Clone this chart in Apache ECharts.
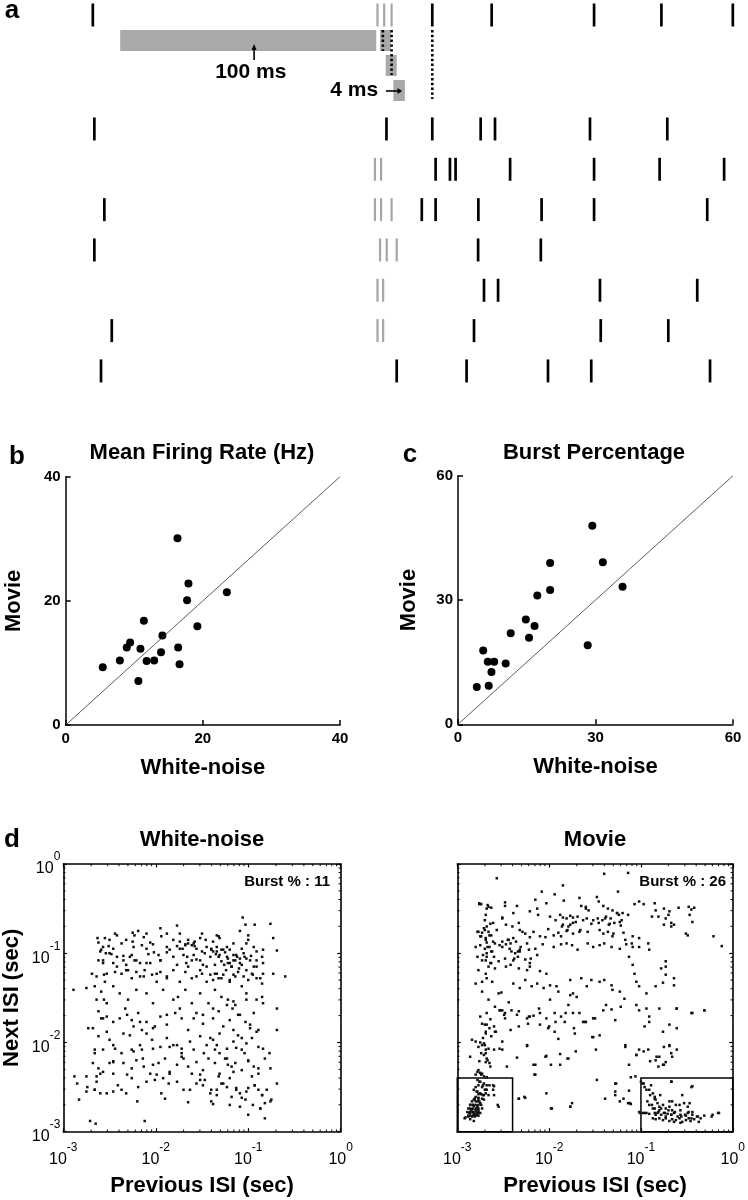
<!DOCTYPE html>
<html><head><meta charset="utf-8">
<script src="https://cdn.jsdelivr.net/npm/echarts@6/dist/echarts.min.js"></script>
<style>html,body{margin:0;padding:0;background:#fff}#c{width:748px;height:1200px}</style>
</head><body><div id="c"></div><script>
const FF = 'Liberation Sans, Arial, Helvetica, sans-serif';

// ---------- panel a : spike rasters (time in ms, 0 = first burst spike of trial 1) ----------
const row1Black = [-111.2, 21.4, 44.6, 84.6, 110.9, 138.8];
const row1Burst = [0, 2.6, 5.5];
const trialNames = ['2','3','4','5','6','7','8'];
const trialBlack = [
  [-110.6, 3.5, 21.4, 40.3, 45.9, 83.0, 113.2],
  [22.7, 28.3, 30.5, 51.8, 84.6, 110.2, 135.4],
  [-106.7, 17.3, 22.7, 39.4, 64.1, 84.6, 128.8],
  [-110.6, 39.3, 63.8],
  [41.6, 47.1, 86.9, 124.9],
  [-103.8, 37.7, 87.2, 113.6],
  [-108.0, 7.5, 34.8, 66.6, 83.5, 129.9]
];
const trialBurst = [
  [],
  [-1.0, 1.4],
  [-1.0, 1.4, 5.5],
  [1.0, 3.6, 7.5],
  [0.0, 2.2],
  [0.0, 2.2],
  []
];
// windows of the burst criterion: [start ms, end ms, level]
const windowBars = [[-100.5, -0.5, 0], [1.0, 5.2, 0], [3.2, 7.5, 1], [6.2, 10.7, 2]];
const dottedMarks = [[2.1, 0], [5.5, 1], [21.4, 2]];

// ---------- panel b : mean firing rate ----------
const frWhite = [16.3,17.9,17.7,23.5,19.2,11.4,14.1,9.4,8.9,10.9,16.4,13.9,7.9,11.8,12.9,16.6,5.4,10.6];
const frMovie = [30.1,22.8,20.1,21.4,15.9,16.8,14.4,13.3,12.5,12.3,12.5,11.7,10.4,10.3,10.4,9.8,9.3,7.1];
// ---------- panel c : burst percentage ----------
const bpWhite = [29.3,31.6,20.1,35.9,20.1,17.3,14.8,16.7,11.5,15.5,28.3,5.5,6.5,7.9,10.4,7.3,4.1,6.7];
const bpMovie = [47.9,39.1,38.9,33.2,32.4,31.1,25.3,23.7,22.0,20.9,19.1,17.8,15.1,15.1,14.7,12.6,9.0,9.3];

// ---------- panel d : [log10 previous ISI, log10 next ISI] (sec) ----------
const wnISILog = [
[-1.06,-0.60],[-0.93,-0.68],[-1.03,-0.68],[-0.76,-0.67],[-1.77,-0.69],[-1.95,-0.72],[-1.88,-0.78],[-2.19,-0.75],[-2.25,-0.77],[-2.44,-0.78],[-2.42,-0.80],[-2.23,-0.80],[-1.50,-0.78],[-1.34,-0.80],[-1.32,-0.81],[-1.09,-0.75],[-1.00,-0.80],[-1.74,-0.78],[-2.10,-0.78],
[-2.63,-0.83],[-2.55,-0.83],[-2.50,-0.85],[-2.32,-0.85],[-2.25,-0.87],[-2.13,-0.82],[-2.06,-0.88],[-2.03,-0.90],[-1.94,-0.81],[-1.81,-0.85],[-1.74,-0.87],[-1.68,-0.90],[-1.65,-0.89],[-1.61,-0.91],[-1.58,-0.92],[-1.52,-0.83],[-1.46,-0.85],[-1.38,-0.87],[-1.31,-0.83],[-1.23,-0.93],[-1.16,-0.89],[-1.00,-0.85],[-0.94,-0.93],[-0.84,-0.96],[-0.73,-0.83],[-2.62,-0.88],[-2.57,-0.93],[-2.51,-0.92],[-2.46,-0.95],[-2.37,-0.89],[-2.24,-0.93],[-2.15,-0.91],[-2.10,-0.95],[-1.88,-0.93],[-1.85,-0.96],[-1.77,-0.92],[-1.71,-0.95],[-1.45,-0.93],[-1.40,-0.95],[-1.34,-0.93],[-1.29,-0.96],[-1.20,-0.96],[-1.07,-0.95],[-1.02,-0.89],[-0.91,-0.98],
[-2.60,-0.98],[-2.54,-1.00],[-2.48,-1.01],[-2.42,-1.04],[-2.35,-1.03],[-2.26,-1.02],[-2.23,-1.08],[-2.17,-1.11],[-2.08,-1.01],[-2.02,-0.99],[-1.97,-1.02],[-1.95,-1.08],[-1.88,-0.99],[-1.81,-1.04],[-1.70,-1.02],[-1.66,-1.04],[-1.59,-1.02],[-1.56,-1.07],[-1.52,-1.08],[-1.47,-1.00],[-1.41,-1.04],[-1.38,-0.98],[-1.35,-1.01],[-1.32,-1.04],[-1.29,-1.09],[-1.25,-0.99],[-1.22,-1.06],[-1.20,-1.11],[-1.16,-1.02],[-1.14,-1.08],[-1.12,-1.04],[-1.09,-1.11],[-1.05,-1.00],[-1.02,-1.06],[-0.97,-1.03],[-0.91,-1.08],[-0.85,-1.04],[-0.69,-0.97],[-2.62,-1.08],[-2.57,-1.11],[-2.46,-1.11],[-2.32,-1.13],[-2.10,-1.11],[-1.77,-1.13],[-1.67,-1.11],[-1.49,-1.13],[-1.36,-1.13],[-1.26,-1.13],[-1.18,-1.15],[-1.10,-1.17],[-0.94,-1.15],[-0.84,-1.11],
[-2.69,-1.23],[-2.64,-1.26],[-2.56,-1.24],[-2.55,-1.32],[-2.44,-1.21],[-2.37,-1.23],[-2.30,-1.19],[-2.26,-1.28],[-2.21,-1.21],[-2.13,-1.26],[-2.04,-1.24],[-1.99,-1.32],[-1.95,-1.21],[-1.88,-1.26],[-1.74,-1.32],[-1.68,-1.21],[-1.61,-1.28],[-1.56,-1.26],[-1.50,-1.23],[-1.45,-1.32],[-1.38,-1.30],[-1.34,-1.23],[-1.29,-1.28],[-1.24,-1.19],[-1.20,-1.32],[-1.16,-1.24],[-1.11,-1.21],[-1.05,-1.26],[-1.00,-1.30],[-0.96,-1.23],[-0.91,-1.28],[-0.85,-1.34],[-0.84,-1.23],[-0.73,-1.23],[-0.60,-1.26],[-2.75,-1.39],[-2.89,-1.41],
[-2.66,-1.37],[-2.59,-1.43],[-2.56,-1.52],[-2.64,-1.52],[-2.53,-1.56],[-2.46,-1.37],[-2.39,-1.45],[-2.33,-1.62],[-2.30,-1.52],[-2.21,-1.41],[-2.10,-1.45],[-2.03,-1.56],[-1.92,-1.41],[-1.81,-1.52],[-1.76,-1.49],[-1.68,-1.41],[-1.61,-1.56],[-1.52,-1.45],[-1.43,-1.56],[-1.36,-1.41],[-1.29,-1.49],[-1.22,-1.52],[-1.17,-1.62],[-1.14,-1.58],[-1.07,-1.37],[-1.02,-1.45],[-0.91,-1.52],[-0.85,-1.49],[-0.84,-1.56],[-0.69,-1.62],
[-2.62,-1.65],[-2.59,-1.73],[-2.53,-1.71],[-2.46,-1.77],[-2.39,-1.73],[-2.26,-1.75],[-2.19,-1.67],[-2.10,-1.77],[-2.01,-1.82],[-1.95,-1.71],[-1.88,-1.80],[-1.79,-1.67],[-1.72,-1.73],[-1.65,-1.86],[-1.56,-1.67],[-1.49,-1.79],[-1.38,-1.73],[-1.32,-1.65],[-1.27,-1.82],[-1.20,-1.75],[-1.16,-1.86],[-1.11,-1.69],[-1.03,-1.77],[-0.98,-1.84],[-0.94,-1.67],[-0.89,-1.86],[-2.73,-1.84],[-2.62,-1.93],[-0.69,-1.86],[-2.24,-1.82],[-2.15,-1.86],
[-2.50,-1.97],[-2.44,-2.07],[-2.35,-1.90],[-2.28,-1.92],[-2.17,-2.03],[-2.10,-1.90],[-2.04,-1.97],[-1.95,-2.05],[-1.88,-1.95],[-1.81,-2.03],[-1.72,-2.07],[-1.63,-1.99],[-1.52,-1.93],[-1.45,-2.03],[-1.38,-1.97],[-1.31,-1.90],[-1.23,-2.07],[-1.16,-1.99],[-1.11,-1.92],[-1.07,-2.08],[-1.02,-2.01],[-0.96,-1.95],[-0.89,-2.05],[-0.84,-2.07],[-0.77,-2.12],[-2.66,-2.08],[-2.66,-2.12],[-2.57,-2.08],[-2.37,-2.12],[-2.26,-2.08],[-2.15,-2.08],[-2.03,-2.07],[-1.85,-2.05],[-1.72,-2.12],[-1.59,-2.08],[-1.48,-2.12],[-1.36,-2.08],
[-2.68,-2.23],[-2.62,-2.29],[-2.60,-2.35],[-2.50,-2.23],[-2.46,-2.22],[-2.35,-2.23],[-2.26,-2.29],[-2.21,-2.20],[-2.13,-2.27],[-2.06,-2.35],[-1.97,-2.23],[-1.90,-2.18],[-1.85,-2.35],[-1.77,-2.25],[-1.72,-2.16],[-1.65,-2.27],[-1.56,-2.22],[-1.49,-2.31],[-1.43,-2.18],[-1.36,-2.23],[-1.31,-2.35],[-1.23,-2.18],[-1.18,-2.27],[-1.14,-2.23],[-1.07,-2.31],[-1.00,-2.20],[-0.94,-2.27],[-0.89,-2.35],[-0.82,-2.18],[-0.76,-2.29],[-2.75,-2.38],[-2.64,-2.38],[-2.46,-2.35],[-1.99,-2.36],[-1.61,-2.35],[-1.32,-2.38],
[-2.88,-2.38],[-2.85,-2.46],[-2.74,-2.50],[-2.66,-2.53],[-2.60,-2.57],[-2.53,-2.57],[-2.46,-2.55],[-2.41,-2.48],[-2.37,-2.53],[-2.32,-2.57],[-2.26,-2.40],[-2.19,-2.50],[-2.10,-2.44],[-2.01,-2.42],[-1.94,-2.57],[-1.90,-2.63],[-1.86,-2.46],[-1.77,-2.44],[-1.70,-2.53],[-1.63,-2.53],[-1.56,-2.46],[-1.47,-2.42],[-1.41,-2.57],[-1.40,-2.66],[-1.34,-2.53],[-1.29,-2.46],[-1.23,-2.50],[-1.18,-2.61],[-1.13,-2.53],[-1.09,-2.57],[-1.03,-2.64],[-1.00,-2.51],[-0.93,-2.48],[-0.89,-2.53],[-0.85,-2.59],[-0.80,-2.53],[-0.75,-2.64],[-0.69,-2.46],[-2.75,-2.55],[-2.83,-2.64],[-2.20,-2.66],[-1.65,-2.67],[-1.52,-2.42],
[-1.09,-2.72],[-1.00,-2.81],[-0.87,-2.74],[-0.82,-2.85],[-2.71,-2.88],[-2.65,-2.91],[-2.12,-2.88],[-1.38,-2.69],[-1.20,-2.70],[-0.76,-2.66],
[-1.40,-0.96],[-1.34,-0.98],[-1.31,-1.02],[-1.27,-0.96],[-1.23,-1.04],[-1.22,-1.11],[-1.18,-1.15],[-1.16,-1.08],[-1.13,-1.02],[-1.09,-1.06],[-1.07,-1.13],[-1.04,-1.04],[-1.02,-1.19],[-0.98,-1.08],[-0.95,-1.24],[-0.91,-1.15],[-0.87,-1.28],[-1.36,-1.23],[-1.32,-1.28],[-1.27,-1.24],[-1.20,-1.30],[-1.14,-1.26],[-1.59,-0.89],[-1.56,-0.95],[-1.50,-0.98],[-1.61,-1.08],[-1.65,-1.15],[-1.52,-1.19],[-1.45,-1.15],[-1.41,-1.24],[-1.68,-0.91],[-1.74,-0.95],[-1.65,-0.85],[-1.58,-0.87],[-1.95,-1.08],[-2.06,-1.11],[-2.21,-1.08],[-2.28,-1.04],[-2.35,-1.08],[-2.42,-1.15],[-2.50,-1.00],[-2.57,-1.08],[-2.59,-0.96],[-2.53,-1.23],[-2.32,-1.19],[-2.17,-1.26],[-2.12,-1.19],[-1.99,-1.23],[-1.88,-1.28],[-1.81,-1.19],
[-1.41,-1.95],[-1.34,-2.03],[-1.31,-2.12],[-1.25,-2.18],[-1.22,-2.25],[-1.16,-2.33],[-1.13,-2.06],[-1.07,-1.95],[-1.04,-2.12],[-1.00,-2.21],[-0.96,-2.38],[-0.93,-2.48],[-0.89,-2.29],[-0.85,-2.59],[-0.82,-2.68],[-1.52,-2.36],[-1.49,-2.48],[-1.40,-2.53],[-1.34,-2.59],[-1.27,-2.46],[-1.20,-2.40],[-1.13,-2.51],[-1.07,-2.62],[-1.02,-2.55],[-0.95,-2.70],[-0.87,-2.74],[-1.77,-2.03],[-1.70,-2.18],[-1.85,-2.33],[-1.92,-2.40],[-2.03,-2.25],[-2.14,-2.18],[-2.24,-2.10],[-2.31,-2.36],[-2.46,-2.21],[-2.57,-2.33],[-2.64,-2.44],[-2.66,-2.53],[-2.57,-1.73],[-2.53,-1.88],[-2.68,-1.84],[-2.46,-2.03],[-2.31,-1.69],[-2.17,-1.77],[-2.03,-1.84],[-1.88,-1.69],[-1.74,-1.62],[-1.59,-1.73],[-1.49,-1.69],[-1.38,-1.62],[-1.23,-1.58],[-1.09,-1.69],[-0.98,-1.80],[-0.91,-1.88],[-1.16,-1.54],[-1.02,-1.52]
];
const movISILog = [
[-2.57,-0.16],[-1.40,-0.11],[-1.14,-0.10],[-1.85,-0.24],[-2.08,-0.31],[-1.25,-0.31],[-2.15,-0.40],[-1.94,-0.34],
[-2.76,-0.45],[-2.74,-0.45],[-2.66,-0.48],[-2.63,-0.49],[-2.48,-0.43],[-2.48,-0.47],[-2.35,-0.47],[-2.13,-0.50],[-2.03,-0.44],[-1.84,-0.41],[-1.67,-0.38],[-1.65,-0.47],[-1.60,-0.50],[-1.48,-0.37],[-1.46,-0.42],[-1.41,-0.47],[-1.36,-0.50],[-1.31,-0.52],[-1.26,-0.55],[-1.24,-0.57],[-1.20,-0.55],[-1.07,-0.45],[-1.02,-0.42],[-0.97,-0.45],[-0.85,-0.44],[-0.84,-0.52],[-0.75,-0.50],[-0.69,-0.53],[-0.59,-0.49],[-0.48,-0.48],[-0.45,-0.51],[-0.42,-0.49],[-2.68,-0.50],
[-2.69,-0.57],[-2.51,-0.60],[-2.39,-0.55],[-2.21,-0.53],[-2.12,-0.57],[-1.99,-0.59],[-1.88,-0.57],[-1.85,-0.60],[-1.81,-0.61],[-1.77,-0.58],[-1.74,-0.60],[-1.69,-0.59],[-1.63,-0.63],[-1.59,-0.61],[-1.52,-0.63],[-1.47,-0.61],[-1.42,-0.63],[-1.38,-0.59],[-1.33,-0.61],[-1.29,-0.66],[-1.22,-0.69],[-1.14,-0.57],[-0.81,-0.59],[-0.73,-0.61],[-0.67,-0.66],[-0.47,-0.57],[-0.44,-0.65],[-1.85,-0.68],[-1.79,-0.70],[-1.74,-0.66],[-1.54,-0.67],[-1.34,-0.67],[-1.23,-0.65],[-0.75,-0.68],[-0.64,-0.68],[-2.71,-0.72],[-2.64,-0.67],[-2.47,-0.68],[-2.68,-0.70],
[-2.77,-0.76],[-2.73,-0.77],[-2.66,-0.76],[-2.63,-0.80],[-2.57,-0.74],[-2.75,-0.81],[-2.69,-0.83],[-2.32,-0.74],[-2.26,-0.78],[-2.17,-0.76],[-2.10,-0.81],[-2.04,-0.82],[-2.01,-0.73],[-1.95,-0.80],[-1.90,-0.77],[-1.81,-0.75],[-1.74,-0.78],[-1.67,-0.76],[-1.58,-0.76],[-1.45,-0.74],[-1.41,-0.78],[-1.36,-0.76],[-1.31,-0.81],[-1.19,-0.77],[-1.09,-0.81],[-1.02,-0.83],[-0.51,-0.78],[-0.49,-0.80],[-0.21,-0.81],[-2.44,-0.85],[-2.39,-0.83],[-2.36,-0.87],[-2.21,-0.82],[-1.87,-0.81],
[-2.80,-0.93],[-2.75,-0.91],[-2.70,-0.95],[-2.68,-0.88],[-2.65,-0.93],[-2.59,-0.89],[-2.51,-0.93],[-2.47,-0.90],[-2.43,-0.95],[-2.37,-1.00],[-2.32,-0.98],[-2.24,-0.89],[-2.15,-0.95],[-2.07,-0.90],[-1.95,-0.93],[-1.87,-0.90],[-1.81,-0.89],[-1.75,-0.91],[-1.69,-0.96],[-1.58,-0.89],[-1.52,-0.93],[-1.45,-0.91],[-1.40,-0.89],[-1.32,-0.93],[-1.23,-0.95],[-1.16,-0.90],[-1.09,-0.93],[-1.02,-0.93],[-0.92,-0.89],[-0.91,-0.96],[-0.12,-0.92],[-2.68,-1.00],[-2.62,-0.98],[-2.41,-0.98],[-2.32,-0.96],
[-2.78,-1.04],[-2.73,-1.08],[-2.68,-1.04],[-2.64,-1.11],[-2.55,-1.09],[-2.48,-1.06],[-2.39,-1.08],[-2.34,-1.04],[-2.26,-1.07],[-2.21,-1.11],[-2.13,-1.02],[-2.66,-1.15],[-2.59,-1.17],[-2.47,-1.15],[-2.42,-1.13],[-2.33,-1.17],[-2.24,-1.19],[-2.21,-1.15],[-1.13,-1.04],[-0.73,-1.09],[-2.10,-1.20],[-2.03,-1.23],[-1.09,-1.13],[-0.78,-1.17],[-0.73,-1.15],[-2.77,-1.19],[-2.69,-1.23],
[-2.80,-1.34],[-2.73,-1.32],[-2.68,-1.28],[-2.62,-1.32],[-2.55,-1.45],[-2.52,-1.44],[-2.39,-1.34],[-2.32,-1.39],[-2.26,-1.30],[-2.19,-1.37],[-2.13,-1.34],[-2.06,-1.39],[-1.99,-1.36],[-1.92,-1.37],[-1.90,-1.43],[-1.77,-1.30],[-1.74,-1.45],[-1.65,-1.28],[-1.59,-1.37],[-1.54,-1.30],[-1.45,-1.32],[-1.40,-1.30],[-1.32,-1.36],[-1.23,-1.43],[-1.07,-1.23],[-1.02,-1.37],[-0.94,-1.45],[-0.84,-1.37],[-0.76,-1.33],[-0.73,-1.24],[-0.64,-1.28],[-0.64,-1.36],[-1.77,-1.47],[-1.70,-1.49],[-2.66,-1.52],[-1.99,-1.52],[-2.73,-1.43],[-1.05,-1.32],[-1.31,-1.41],[-1.18,-1.51],
[-2.59,-1.60],[-2.53,-1.64],[-2.48,-1.67],[-2.44,-1.55],[-2.41,-1.64],[-2.35,-1.69],[-2.24,-1.73],[-2.21,-1.71],[-2.17,-1.70],[-2.10,-1.67],[-2.03,-1.73],[-1.94,-1.67],[-1.87,-1.71],[-1.83,-1.77],[-1.79,-1.58],[-1.74,-1.67],[-1.67,-1.67],[-1.61,-1.77],[-1.52,-1.73],[-1.41,-1.64],[-1.38,-1.58],[-1.32,-1.63],[-1.22,-1.60],[-1.05,-1.58],[-1.02,-1.64],[-0.94,-1.62],[-0.91,-1.71],[-0.80,-1.62],[-0.61,-1.62],[-0.44,-1.67],[-0.31,-1.64],[-2.75,-1.71],[-2.68,-1.67],[-2.64,-1.74],[-2.48,-1.73],
[-2.73,-1.79],[-2.68,-1.80],[-2.65,-1.84],[-2.60,-1.82],[-2.69,-1.90],[-2.63,-1.93],[-2.59,-1.88],[-2.42,-1.86],[-2.33,-1.82],[-2.23,-1.79],[-2.10,-1.80],[-2.01,-1.84],[-1.94,-1.88],[-1.90,-1.96],[-1.72,-1.90],[-1.63,-1.77],[-1.52,-1.94],[-1.45,-1.92],[-1.28,-1.75],[-0.96,-1.82],[-0.91,-1.77],[-0.76,-1.88],[-0.69,-1.80],[-2.84,-1.97],[-2.80,-1.99],[-2.75,-2.00],[-2.71,-2.01],
[-2.77,-2.05],[-2.73,-2.03],[-2.69,-2.08],[-2.66,-2.07],[-2.60,-2.08],[-2.51,-2.08],[-2.86,-2.16],[-2.71,-2.14],[-2.68,-2.18],[-2.65,-2.23],[-2.69,-2.22],[-2.64,-2.27],[-2.35,-2.17],[-2.24,-2.04],[-2.03,-2.15],[-1.88,-2.13],[-1.79,-2.18],[-1.49,-2.08],[-1.17,-2.05],[-1.05,-2.14],[-1.02,-2.08],[-0.92,-2.08],[-0.80,-2.16],[-0.75,-2.05],[-0.69,-2.04],[-0.67,-2.12],[-0.75,-2.25],[-0.73,-2.22],[-0.66,-2.16],[-2.46,-2.27],[-2.17,-2.25],[-1.98,-2.25],[-1.13,-2.25],[-0.84,-2.20],[-0.81,-2.27],
[-2.77,-2.31],[-2.75,-2.34],[-2.73,-2.35],[-2.80,-2.36],[-2.71,-2.38],[-2.68,-2.39],[-2.15,-2.36],[-1.11,-2.39],[-1.00,-2.44],[-0.67,-2.44],
[-2.78,-2.42],[-2.75,-2.44],[-2.71,-2.46],[-2.77,-2.48],[-2.80,-2.50],[-2.73,-2.50],[-2.68,-2.48],[-2.60,-2.49],[-2.61,-2.53],[-2.82,-2.53],[-2.78,-2.55],[-2.75,-2.57],[-2.71,-2.59],[-2.66,-2.59],[-2.80,-2.61],[-2.77,-2.63],[-2.82,-2.64],[-2.84,-2.66],[-2.78,-2.66],[-2.75,-2.68],[-2.86,-2.70],[-2.82,-2.71],[-2.78,-2.72],[-2.88,-2.74],[-2.84,-2.75],[-2.80,-2.76],[-2.77,-2.76],[-2.73,-2.74],[-2.89,-2.78],[-2.86,-2.79],[-2.82,-2.80],[-2.78,-2.81],[-2.88,-2.82],[-2.84,-2.83],[-2.91,-2.84],[-2.86,-2.86],[-2.82,-2.88],[-2.92,-2.85],[-2.80,-2.81],[-2.75,-2.79],[-2.74,-2.70],[-2.55,-2.72],[-2.69,-2.53],[-2.71,-2.64],[-2.73,-2.63],[-2.68,-2.53],
[-2.86,-2.70],[-2.83,-2.70],[-2.80,-2.70],[-2.77,-2.70],[-2.86,-2.74],[-2.83,-2.74],[-2.80,-2.74],[-2.77,-2.74],[-2.86,-2.78],[-2.83,-2.78],[-2.80,-2.78],[-2.77,-2.78],[-2.86,-2.82],[-2.83,-2.82],[-2.80,-2.82],[-2.77,-2.82],[-2.80,-2.66],[-2.77,-2.62],[-2.74,-2.58],[-2.77,-2.58],
[-2.33,-2.63],[-2.26,-2.62],[-1.98,-2.74],[-1.77,-2.72],[-1.75,-2.68],[-2.03,-2.57],[-1.27,-2.46],[-1.28,-2.59],[-1.23,-2.66],[-1.13,-2.54],[-1.11,-2.69],[-1.14,-2.68],
[-0.98,-2.46],[-0.96,-2.50],[-0.91,-2.53],[-0.89,-2.48],[-0.87,-2.57],[-0.85,-2.61],[-0.84,-2.64],[-0.82,-2.68],[-0.93,-2.66],[-0.91,-2.70],[-0.87,-2.74],[-0.80,-2.76],[-0.76,-2.70],[-0.73,-2.74],[-0.67,-2.44],[-0.66,-2.66],[-0.62,-2.70],[-0.55,-2.59],[-0.53,-2.68],[-0.49,-2.72],[-0.44,-2.49],[-1.02,-2.78],[-0.98,-2.79],[-0.94,-2.79],[-0.91,-2.80],[-0.85,-2.79],[-0.82,-2.79],[-0.78,-2.81],[-0.75,-2.79],[-0.71,-2.80],[-0.67,-2.81],[-0.64,-2.79],[-0.60,-2.83],[-0.57,-2.81],[-0.51,-2.82],[-0.48,-2.85],[-0.44,-2.81],[-0.39,-2.83],[-0.35,-2.85],[-0.31,-2.82],[-0.22,-2.81],[-0.15,-2.79],[-0.87,-2.85],[-0.84,-2.86],[-0.80,-2.85],[-0.76,-2.87],[-0.73,-2.85],[-0.69,-2.88],[-0.66,-2.86],[-0.62,-2.87],[-0.58,-2.85],[-0.55,-2.89],[-0.51,-2.87],[-0.46,-2.88],[-0.42,-2.86],[-0.37,-2.89],[-0.84,-2.81],[-0.66,-2.76],[-0.48,-2.78],[-0.69,-2.72],[-0.57,-2.76],[-0.80,-2.72],[-0.73,-2.83],[-0.49,-2.79],[-0.44,-2.78],[-0.57,-2.90],[-0.64,-2.89],
[-2.78,-0.76],[-2.74,-0.81],[-2.70,-0.74],[-2.69,-0.85],[-2.67,-0.93],[-2.65,-0.80],[-2.63,-0.98],[-2.61,-0.87],[-2.72,-1.02],[-2.69,-1.08],[-2.63,-1.11],[-2.60,-1.04],[-2.54,-0.91],[-2.51,-0.87],[-2.45,-0.85],[-2.42,-0.89],[-2.38,-1.06],[-2.34,-0.98],[-2.31,-0.93],[-2.40,-0.70],[-2.33,-0.66],[-2.51,-0.61],[-2.61,-0.66],[-2.70,-0.63],[-2.22,-0.96],[-2.20,-1.06],[-2.29,-0.76],[-2.67,-0.46],[-2.76,-0.44],
[-1.93,-0.63],[-1.86,-0.70],[-1.80,-0.74],[-1.77,-0.68],[-1.71,-0.65],[-1.66,-0.74],[-1.60,-0.48],[-1.57,-0.52],[-1.46,-0.66],[-1.39,-0.61],[-1.35,-0.68],[-1.30,-0.78],[-1.26,-0.55],[-1.21,-0.63],[-1.17,-0.85],[-1.10,-0.89],[-0.88,-0.59],[-0.70,-0.57],[-0.67,-0.70],
[-2.70,-1.80],[-2.69,-1.88],[-2.72,-1.95],[-2.70,-2.03],[-2.69,-2.12],[-2.67,-2.20],[-2.74,-2.12],[-2.76,-2.21],[-2.78,-2.33],[-2.74,-2.36],[-2.76,-2.44],[-2.72,-2.48],[-2.70,-2.53],[-2.79,-2.55],[-2.81,-2.63],[-2.83,-2.70],[-2.85,-2.76],[-2.87,-2.79],[-2.88,-2.83],[-2.79,-2.74],[-2.76,-2.66],[-2.72,-2.59],[-2.69,-2.57],[-2.83,-2.78],[-2.78,-2.79],[-2.81,-2.83],[-2.65,-2.48],[-2.61,-2.48],[-2.60,-2.59],[-2.54,-2.07],[-2.51,-1.99],[-2.49,-1.69],[-2.51,-1.64],[-2.54,-1.64],[-2.58,-1.88],
[-0.88,-2.70],[-0.85,-2.74],[-0.81,-2.78],[-0.78,-2.74],[-0.74,-2.79],[-0.70,-2.76],[-0.67,-2.81],[-0.63,-2.78],[-0.56,-2.83],[-0.52,-2.81],[-0.45,-2.85],[-0.38,-2.83],[-0.90,-2.59],[-0.85,-2.63],[-0.79,-2.59],[-0.69,-2.66],[-0.58,-2.70],[-0.47,-2.68],[-0.97,-2.46],[-0.94,-2.53],[-0.67,-2.44],[-0.45,-2.50],[-1.01,-2.79],[-0.96,-2.79],[-0.16,-2.79],[-0.23,-2.83],
[-2.33,-1.65],[-2.22,-1.71],[-2.11,-1.62],[-2.00,-1.82],[-1.93,-1.77],[-1.82,-1.67],[-1.73,-1.84],[-1.60,-1.77],[-1.53,-1.94],[-1.50,-1.73],[-2.24,-2.03],[-2.04,-2.16],[-1.88,-2.25],[-1.80,-2.18],[-1.71,-2.10],[-2.15,-2.25],[-2.16,-2.36],[-1.17,-2.03],[-1.05,-2.14],[-0.97,-2.10],[-0.90,-2.21],[-0.83,-2.16],[-0.76,-2.25],[-0.69,-2.03],[-0.61,-2.08],[-0.61,-1.84],[-0.61,-1.62],[-0.45,-1.67],[-0.31,-1.64],[-1.48,-2.42],[-1.39,-2.63],[-1.28,-2.46],[-1.28,-2.55],[-1.19,-2.63],[-1.12,-2.68],[-1.06,-2.38],[-1.97,-2.74],[-1.77,-2.72],[-2.33,-2.63],[-2.27,-2.61],[-2.56,-2.70]
];
// burst criterion boxes in log10 sec: [xMin, xMax, yMin, yMax]
const burstBoxes = [[-3, -2.398, -3, -2.398], [-1, 0, -3, -2.398]];

// ---------------- helpers ----------------
const BLACK = '#000';
const bold = (size) => ({fontFamily: FF, fontWeight: 'bold', fontSize: size, color: BLACK});
function powLabel(v) { const e = Math.round(v); return '{b|10}{s|' + (e === 0 ? '0' : String(e)) + '}'; }
const powRich = {
  b: {fontFamily: FF, fontSize: 16, lineHeight: 26, verticalAlign: 'bottom', color: BLACK},
  s: {fontFamily: FF, fontSize: 12, lineHeight: 12, verticalAlign: 'top', color: BLACK}
};

function renderWindow(params, api) {
  const cs = params.coordSys;
  const x0 = api.coord([api.value(0), 0.5])[0];
  const x1 = api.coord([api.value(1), 0.5])[0];
  const lvl = api.value(2);
  return {type: 'rect', shape: {x: x0, y: cs.y + cs.height + 3 + lvl * 25, width: x1 - x0, height: 21},
          style: {fill: '#a9a9a9'}};
}
function renderDotted(params, api) {
  const cs = params.coordSys;
  const x = api.coord([api.value(0), 0.5])[0];
  const lvl = api.value(1);
  const y0 = cs.y + cs.height + 3;
  return {type: 'line', shape: {x1: x, y1: y0, x2: x, y2: y0 + lvl * 24 + 21},
          style: {stroke: BLACK, lineWidth: 2.6, lineDash: [2.4, 2.4]}, z2: 10};
}
function renderDiagramLabels(params, api) {
  const cs = params.coordSys;
  const base = cs.y + cs.height;
  const xa = api.coord([-48.2, 0.5])[0];
  const xt = api.coord([-49.5, 0.5])[0];
  const x4 = api.coord([1.0, 0.5])[0];
  const xs = api.coord([3.3, 0.5])[0];
  const xe = api.coord([9.6, 0.5])[0];
  const font = 'bold 21px ' + FF;
  return {type: 'group', children: [
    {type: 'line', shape: {x1: xa, y1: base + 33, x2: xa, y2: base + 21}, style: {stroke: BLACK, lineWidth: 1.6}},
    {type: 'polygon', shape: {points: [[xa - 2.5, base + 23], [xa + 2.5, base + 23], [xa, base + 17]]}, style: {fill: BLACK}},
    {type: 'text', x: xt, y: base + 45, style: {text: '100 ms', font: font, fill: BLACK, align: 'center', verticalAlign: 'middle'}},
    {type: 'text', x: x4 - 2, y: base + 63.5, style: {text: '4 ms', font: font, fill: BLACK, align: 'right', verticalAlign: 'middle'}},
    {type: 'line', shape: {x1: xs, y1: base + 64, x2: xe - 3, y2: base + 64}, style: {stroke: BLACK, lineWidth: 1.6}},
    {type: 'polygon', shape: {points: [[xe - 4.5, base + 61], [xe - 4.5, base + 67], [xe, base + 64]]}, style: {fill: BLACK}}
  ]};
}
function renderMinorTicks(params, api) {
  const cs = params.coordSys;
  const children = [];
  const st = {stroke: BLACK, lineWidth: 1};
  for (let d = -3; d < 0; d++) {
    for (let k = 2; k <= 9; k++) {
      const v = d + Math.log10(k);
      const px = api.coord([v, -3])[0];
      const py = api.coord([-3, v])[1];
      const L = 2.2;
      children.push({type: 'line', shape: {x1: px, y1: cs.y + cs.height, x2: px, y2: cs.y + cs.height - L}, style: st});
      children.push({type: 'line', shape: {x1: px, y1: cs.y, x2: px, y2: cs.y + L}, style: st});
      children.push({type: 'line', shape: {x1: cs.x, y1: py, x2: cs.x + L, y2: py}, style: st});
      children.push({type: 'line', shape: {x1: cs.x + cs.width, y1: py, x2: cs.x + cs.width - L, y2: py}, style: st});
    }
  }
  return {type: 'group', children: children};
}

// ---------------- build series data ----------------
const rowBlackData = [];
const rowBurstData = [];
trialBlack.forEach((arr, i) => arr.forEach(t => rowBlackData.push([t, i])));
trialBurst.forEach((arr, i) => arr.forEach(t => rowBurstData.push([t, i])));

const timeAxis = (gi) => ({gridIndex: gi, type: 'value', min: -120, max: 140, show: false});
const scatterAxis = (gi, max, step, name) => ({
  gridIndex: gi, type: 'value', min: 0, max: max, interval: step,
  axisLine: {show: true, onZero: false, lineStyle: {color: BLACK, width: 1.5}},
  axisTick: {show: true, inside: true, length: 5, lineStyle: {color: BLACK, width: 1.5}},
  axisLabel: Object.assign(bold(15), {margin: 6}),
  splitLine: {show: false},
  name: name, nameLocation: 'middle', nameTextStyle: bold(22)
});
const logAxis = (gi, pos, labels, name, gap) => ({
  gridIndex: gi, type: 'value', min: -3, max: 0, interval: 1, position: pos,
  axisLine: {show: true, onZero: false, lineStyle: {color: BLACK, width: 1.6}},
  axisTick: {show: true, inside: true, length: 3.5, lineStyle: {color: BLACK, width: 1.2}},
  axisLabel: {show: labels, formatter: powLabel, rich: powRich, margin: (pos === 'bottom' ? 10 : 3)},
  splitLine: {show: false},
  name: name || '', nameLocation: 'middle', nameGap: gap || 0, nameTextStyle: bold(22)
});

const bX = scatterAxis(2, 40, 20, 'White-noise'); bX.nameGap = 32;
const bY = scatterAxis(2, 40, 20, 'Movie'); bY.nameGap = 41; bY.axisLabel.margin = 5;
const cX = scatterAxis(3, 60, 30, 'White-noise'); cX.nameGap = 32;
const cY = scatterAxis(3, 60, 30, 'Movie'); cY.nameGap = 38; cY.axisLabel.margin = 5;

const solid = (c) => ({color: c, opacity: 1});

const option = {
  animation: false,
  backgroundColor: '#fff',
  textStyle: {fontFamily: FF},
  grid: [
    {left: 70.3, top: 3, width: 665.6, height: 24},
    {left: 70.3, top: 108.8, width: 665.6, height: 282.3},
    {left: 65.7, top: 476.7, width: 274.3, height: 248.3},
    {left: 458, top: 475.7, width: 275, height: 248.6},
    {left: 63.3, top: 864, width: 277.4, height: 267.7},
    {left: 457.3, top: 864, width: 277.4, height: 267.7}
  ],
  xAxis: [
    timeAxis(0), timeAxis(1), bX, cX,
    logAxis(4, 'bottom', true, 'Previous ISI (sec)', 43), logAxis(4, 'top', false),
    logAxis(5, 'bottom', true, 'Previous ISI (sec)', 43), logAxis(5, 'top', false)
  ],
  yAxis: [
    {gridIndex: 0, type: 'value', min: 0, max: 1, show: false},
    {gridIndex: 1, type: 'category', data: trialNames, inverse: true, show: false},
    bY, cY,
    logAxis(4, 'left', true, 'Next ISI (sec)', 40), logAxis(4, 'right', false),
    logAxis(5, 'left', false), logAxis(5, 'right', false)
  ],
  graphic: [
    ['a', 12, 11, 26], ['b', 17, 457, 26], ['c', 410, 455, 26], ['d', 12, 840, 26],
    ['Mean Firing Rate (Hz)', 202, 453, 22], ['Burst Percentage', 594, 453, 22],
    ['White-noise', 202, 840, 22], ['Movie', 595, 840, 22]
  ].map(t => ({type: 'text', x: t[1], y: t[2], silent: true,
      style: {text: t[0], font: 'bold ' + t[3] + 'px ' + FF, fill: BLACK,
              align: 'center', verticalAlign: 'middle'}}))
    .concat([
      ['Burst % : 11', 330, 882], ['Burst % : 26', 726, 882]
    ].map(t => ({type: 'text', x: t[1], y: t[2], silent: true,
      style: {text: t[0], font: 'bold 15px ' + FF, fill: BLACK,
              align: 'right', verticalAlign: 'middle'}}))),
  series: [
    // panel a
    {type: 'custom', xAxisIndex: 0, yAxisIndex: 0, renderItem: renderWindow, data: windowBars,
     encode: {x: [0, 1]}, clip: false, silent: true, z: 1},
    {type: 'custom', xAxisIndex: 0, yAxisIndex: 0, renderItem: renderDotted, data: dottedMarks,
     encode: {x: 0}, clip: false, silent: true, z: 5},
    {type: 'custom', xAxisIndex: 0, yAxisIndex: 0, renderItem: renderDiagramLabels, data: [[0, 0.5]],
     clip: false, silent: true, z: 6},
    {type: 'scatter', xAxisIndex: 0, yAxisIndex: 0, symbol: 'rect', symbolSize: [2.7, 23],
     itemStyle: solid(BLACK), data: row1Black.map(t => [t, 0.5]), silent: true},
    {type: 'scatter', xAxisIndex: 0, yAxisIndex: 0, symbol: 'rect', symbolSize: [2.2, 23],
     itemStyle: solid('#a6a6a6'), data: row1Burst.map(t => [t, 0.5]), silent: true},
    {type: 'scatter', xAxisIndex: 1, yAxisIndex: 1, symbol: 'rect', symbolSize: [2.7, 23],
     itemStyle: solid(BLACK), data: rowBlackData, silent: true},
    {type: 'scatter', xAxisIndex: 1, yAxisIndex: 1, symbol: 'rect', symbolSize: [2.2, 23],
     itemStyle: solid('#a6a6a6'), data: rowBurstData, silent: true},
    // panel b
    {type: 'line', xAxisIndex: 2, yAxisIndex: 2, data: [[0, 0], [40, 40]], symbol: 'none',
     lineStyle: {color: '#333', width: 0.8}, silent: true},
    {type: 'scatter', xAxisIndex: 2, yAxisIndex: 2, symbolSize: 8, itemStyle: solid(BLACK),
     data: frWhite.map((v, i) => [v, frMovie[i]]), silent: true},
    // panel c
    {type: 'line', xAxisIndex: 3, yAxisIndex: 3, data: [[0, 0], [60, 60]], symbol: 'none',
     lineStyle: {color: '#333', width: 0.8}, silent: true},
    {type: 'scatter', xAxisIndex: 3, yAxisIndex: 3, symbolSize: 8, itemStyle: solid(BLACK),
     data: bpWhite.map((v, i) => [v, bpMovie[i]]), silent: true},
    // panel d
    {type: 'custom', xAxisIndex: 4, yAxisIndex: 4, renderItem: renderMinorTicks, data: [[-1.5, -1.5]], silent: true},
    {type: 'custom', xAxisIndex: 6, yAxisIndex: 6, renderItem: renderMinorTicks, data: [[-1.5, -1.5]], silent: true},
    {type: 'scatter', xAxisIndex: 4, yAxisIndex: 4, symbol: 'rect', symbolSize: 2.5,
     itemStyle: solid('#111'), data: wnISILog, silent: true},
    {type: 'scatter', xAxisIndex: 6, yAxisIndex: 6, symbol: 'rect', symbolSize: 2.5,
     itemStyle: solid('#111'), data: movISILog, silent: true,
     markArea: {silent: true, itemStyle: {color: 'rgba(0,0,0,0)', borderColor: BLACK, borderWidth: 1.5},
       data: burstBoxes.map(b => [{coord: [b[0], b[2]]}, {coord: [b[1], b[3]]}])}}
  ]
};
const chart = echarts.init(document.getElementById('c'), null, {renderer: 'canvas'});
chart.setOption(option);
</script></body></html>
